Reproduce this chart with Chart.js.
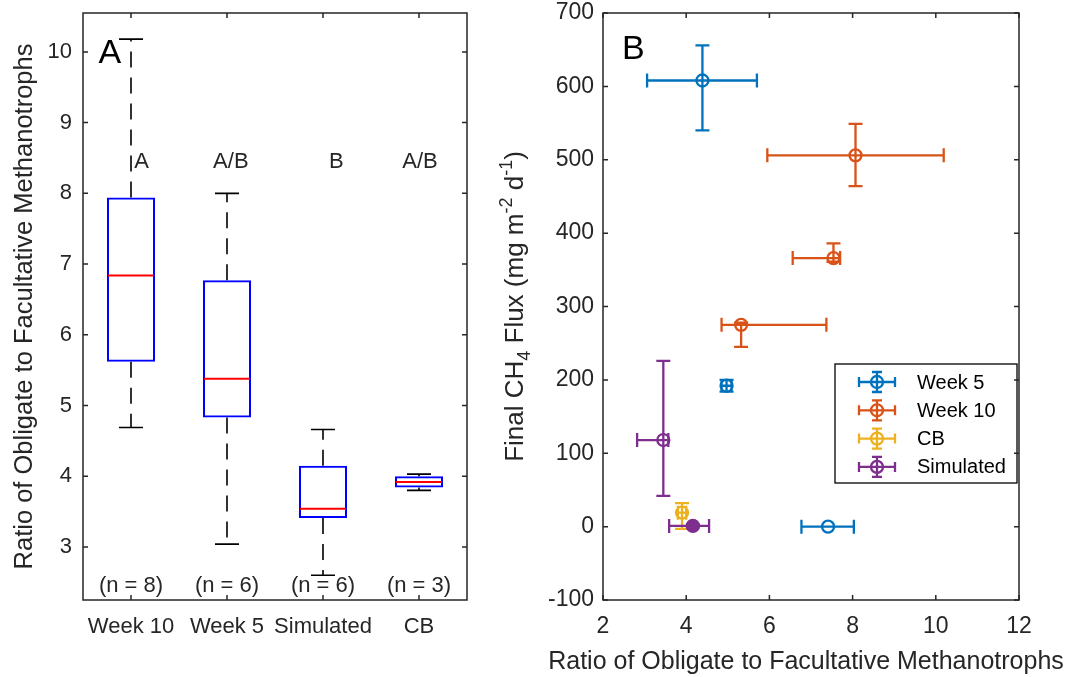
<!DOCTYPE html>
<html>
<head>
<meta charset="utf-8">
<script src="https://cdn.jsdelivr.net/npm/chart.js@4.4.1/dist/chart.umd.min.js"></script>
<style>
  html, body { margin: 0; padding: 0; background: #fff; }
  #wrap { position: relative; width: 1087px; height: 677px; overflow: hidden; }
  #boxChart { position: absolute; left: 0; top: 0; }
  #fluxChart { position: absolute; left: 480px; top: 0; }
</style>
</head>
<body>
<div id="wrap">
  <canvas id="boxChart" width="480" height="677"></canvas>
  <canvas id="fluxChart" width="607" height="677"></canvas>
</div>
<script>
// panel A: box plot of obligate / facultative ratio per group
const groups = ['Week 10', 'Week 5', 'Simulated', 'CB'];
const whiskerLow = [4.69, 3.04, 2.60, 3.80];
const boxQ1 = [5.62, 4.83, 3.41, 3.84];
const boxMedian = [6.84, 5.38, 3.54, 3.92];
const boxQ3 = [7.94, 6.77, 4.15, 4.00];
const whiskerHigh = [10.18, 8.00, 4.66, 4.03];
const sampleCounts = [8, 6, 6, 3];
const groupLetters = ['A', 'A/B', 'B', 'A/B'];
const letterShift = [0.11, 0.04, 0.14, 0.01];

// panel B: final CH4 flux vs ratio, with asymmetric error bars
const seriesNames = ['Week 5', 'Week 10', 'CB', 'Simulated'];
const seriesColors = ['#0072BD', '#D95319', '#EDB120', '#7E2F8E'];

const week5Ratio = [4.39, 4.97, 7.41];
const week5Flux = [608, 192, 0];
const week5RatioNeg = [1.33, 0.12, 0.64];
const week5RatioPos = [1.31, 0.12, 0.62];
const week5FluxNeg = [68, 8, 0];
const week5FluxPos = [48, 8, 0];

const week10Ratio = [8.07, 7.54, 5.32];
const week10Flux = [506, 366, 275];
const week10RatioNeg = [2.12, 0.98, 0.47];
const week10RatioPos = [2.12, 0.16, 2.05];
const week10FluxNeg = [42, 5, 30];
const week10FluxPos = [43, 20, 3];

const cbRatio = [3.90];
const cbFlux = [19];
const cbRatioNeg = [0.1];
const cbRatioPos = [0.1];
const cbFluxNeg = [22];
const cbFluxPos = [13];

const simRatio = [3.45, 4.16];
const simFlux = [118, 1];
const simRatioNeg = [0.63, 0.57];
const simRatioPos = [0.12, 0.39];
const simFluxNeg = [76, 2];
const simFluxPos = [108, 2];

Chart.defaults.font.family = "'Liberation Sans', Arial, sans-serif";
Chart.defaults.color = '#262626';

const AXIS = '#262626';
const FONT = "'Liberation Sans', Arial, sans-serif";

function toPoints(xs, ys, xn, xp, yn, yp) {
    return xs.map((x, i) => ({ x: x, y: ys[i], xNeg: xn[i], xPos: xp[i], yNeg: yn[i], yPos: yp[i] }));
}

// box outline + inward tick marks on all four sides
const frameTicks = {
    id: 'frameTicks',
    afterDraw(chart) {
        const { ctx, chartArea: a, scales: { x, y } } = chart;
        ctx.save();
        ctx.strokeStyle = AXIS;
        ctx.lineWidth = 1.5;
        ctx.strokeRect(a.left, a.top, a.right - a.left, a.bottom - a.top);
        ctx.beginPath();
        x.ticks.forEach((t, i) => {
            const px = x.getPixelForTick(i);
            ctx.moveTo(px, a.bottom); ctx.lineTo(px, a.bottom - 5);
            ctx.moveTo(px, a.top); ctx.lineTo(px, a.top + 5);
        });
        y.ticks.forEach((t, i) => {
            const py = y.getPixelForTick(i);
            ctx.moveTo(a.left, py); ctx.lineTo(a.left + 5, py);
            ctx.moveTo(a.right, py); ctx.lineTo(a.right - 5, py);
        });
        ctx.stroke();
        ctx.restore();
    }
};

// whiskers, caps, medians and text for the box plot
const boxParts = {
    id: 'boxParts',
    afterDatasetsDraw(chart) {
        const { ctx, scales: { x, y } } = chart;
        const bars = chart.getDatasetMeta(0).data;
        ctx.save();
        groups.forEach((g, i) => {
            const cx = x.getPixelForValue(i);
            const half = bars[i].width / 2;
            const cap = half / 2;

            ctx.strokeStyle = '#000';
            ctx.lineWidth = 1.6;
            ctx.setLineDash([16, 10]);
            ctx.beginPath();
            ctx.moveTo(cx, y.getPixelForValue(boxQ3[i]));
            ctx.lineTo(cx, y.getPixelForValue(whiskerHigh[i]));
            ctx.moveTo(cx, y.getPixelForValue(boxQ1[i]));
            ctx.lineTo(cx, y.getPixelForValue(whiskerLow[i]));
            ctx.stroke();

            ctx.setLineDash([]);
            ctx.beginPath();
            [whiskerHigh[i], whiskerLow[i]].forEach(v => {
                const py = y.getPixelForValue(v);
                ctx.moveTo(cx - cap, py); ctx.lineTo(cx + cap, py);
            });
            ctx.stroke();

            ctx.strokeStyle = '#FF0000';
            ctx.lineWidth = 2;
            ctx.beginPath();
            const my = y.getPixelForValue(boxMedian[i]);
            ctx.moveTo(cx - half + 1, my); ctx.lineTo(cx + half - 1, my);
            ctx.stroke();
        });

        ctx.fillStyle = '#262626';
        ctx.textAlign = 'center';
        ctx.textBaseline = 'middle';
        ctx.font = '22px ' + FONT;
        groups.forEach((g, i) => {
            ctx.fillText(groupLetters[i], x.getPixelForValue(i + letterShift[i]), y.getPixelForValue(8.44));
            ctx.fillText('(n = ' + sampleCounts[i] + ')', x.getPixelForValue(i), y.getPixelForValue(2.45));
        });
        ctx.fillStyle = '#000';
        ctx.font = '34px ' + FONT;
        ctx.fillText('A', x.getPixelForValue(-0.22), y.getPixelForValue(9.97));
        ctx.restore();
    }
};

// keep tick-label overhang from pushing the plot box down
function fixLeftAxis(width) {
    return s => { s.width = width; s.paddingTop = 0; s.paddingBottom = 0; };
}

new Chart(document.getElementById('boxChart'), {
    type: 'bar',
    data: {
        labels: groups,
        datasets: [{
            data: groups.map((g, i) => [boxQ1[i], boxQ3[i]]),
            backgroundColor: 'rgba(0,0,0,0)',
            borderColor: '#0000FF',
            borderWidth: 2,
            borderSkipped: false,
            barPercentage: 0.5,
            categoryPercentage: 1.0
        }]
    },
    options: {
        responsive: false,
        animation: false,
        events: [],
        layout: { padding: { top: 13, right: 13, left: 0, bottom: 0 } },
        plugins: { legend: { display: false }, tooltip: { enabled: false } },
        scales: {
            x: {
                grid: { display: false, drawTicks: false },
                border: { display: false },
                ticks: { font: { size: 22 }, padding: 14, color: AXIS, autoSkip: false, maxRotation: 0, minRotation: 0 },
                afterFit: s => { s.height = 77; }
            },
            y: {
                min: 2.25,
                max: 10.55,
                grid: { display: false, drawTicks: false },
                border: { display: false },
                ticks: { stepSize: 1, includeBounds: false, font: { size: 22 }, padding: 11, color: AXIS },
                title: {
                    display: true,
                    text: 'Ratio of Obligate to Facultative Methanotrophs',
                    font: { size: 25.5 },
                    color: AXIS,
                    padding: { top: 10, bottom: 0 }
                },
                afterFit: fixLeftAxis(83)
            }
        }
    },
    plugins: [boxParts, frameTicks]
});

// error bars drawn under the circle markers
const errorBars = {
    id: 'errorBars',
    beforeDatasetsDraw(chart) {
        const { ctx, scales: { x, y } } = chart;
        const cap = 7;
        ctx.save();
        ctx.lineWidth = 2.3;
        chart.data.datasets.forEach(ds => {
            ctx.strokeStyle = ds.borderColor;
            ds.data.forEach(p => {
                const px = x.getPixelForValue(p.x), py = y.getPixelForValue(p.y);
                const xl = x.getPixelForValue(p.x - p.xNeg), xr = x.getPixelForValue(p.x + p.xPos);
                const yt = y.getPixelForValue(p.y + p.yPos), yb = y.getPixelForValue(p.y - p.yNeg);
                ctx.beginPath();
                ctx.moveTo(xl, py); ctx.lineTo(xr, py);
                ctx.moveTo(xl, py - cap); ctx.lineTo(xl, py + cap);
                ctx.moveTo(xr, py - cap); ctx.lineTo(xr, py + cap);
                ctx.moveTo(px, yt); ctx.lineTo(px, yb);
                ctx.moveTo(px - cap, yt); ctx.lineTo(px + cap, yt);
                ctx.moveTo(px - cap, yb); ctx.lineTo(px + cap, yb);
                ctx.stroke();
            });
        });
        ctx.restore();
    }
};

// axis titles (y one has sub/superscripts), panel letter and the boxed legend
const fluxExtras = {
    id: 'fluxExtras',
    afterDraw(chart) {
        const { ctx, chartArea: a, scales: { x, y } } = chart;
        ctx.save();

        ctx.fillStyle = '#000';
        ctx.font = '34px ' + FONT;
        ctx.textAlign = 'center';
        ctx.textBaseline = 'middle';
        ctx.fillText('B', x.getPixelForValue(2.73), y.getPixelForValue(650));

        // x title runs wider than the axis, so it is drawn here unclipped
        ctx.fillStyle = AXIS;
        ctx.font = '25px ' + FONT;
        ctx.fillText('Ratio of Obligate to Facultative Methanotrophs', (a.left + a.right) / 2 - 5, a.bottom + 62);

        const parts = [
            ['Final CH', 0], ['4', 1], [' Flux (mg m', 0], ['-2', -1], [' d', 0], ['-1', -1], [')', 0]
        ];
        const big = '26px ' + FONT;
        const small = '18px ' + FONT;
        let total = 0;
        parts.forEach(p => { ctx.font = p[1] ? small : big; total += ctx.measureText(p[0]).width; });
        ctx.translate(43, (a.top + a.bottom) / 2);
        ctx.rotate(-Math.PI / 2);
        ctx.textAlign = 'left';
        ctx.textBaseline = 'alphabetic';
        let cx = -total / 2;
        parts.forEach(p => {
            ctx.font = p[1] ? small : big;
            const dy = p[1] === 1 ? 7 : (p[1] === -1 ? -11 : 0);
            ctx.fillText(p[0], cx, dy);
            cx += ctx.measureText(p[0]).width;
        });
        ctx.setTransform(1, 0, 0, 1, 0, 0);

        // legend
        const box = { left: 355, top: 364, right: 537, bottom: 483 };
        ctx.fillStyle = '#fff';
        ctx.fillRect(box.left, box.top, box.right - box.left, box.bottom - box.top);
        ctx.strokeStyle = '#000';
        ctx.lineWidth = 1.3;
        ctx.strokeRect(box.left, box.top, box.right - box.left, box.bottom - box.top);
        ctx.font = '20px ' + FONT;
        ctx.textBaseline = 'middle';
        ctx.textAlign = 'left';
        seriesNames.forEach((name, i) => {
            const cy = 382 + i * 28.3;
            const ix = 397;
            ctx.strokeStyle = seriesColors[i];
            ctx.lineWidth = 2.3;
            ctx.beginPath();
            ctx.moveTo(ix - 18, cy); ctx.lineTo(ix + 18, cy);
            ctx.moveTo(ix - 18, cy - 5); ctx.lineTo(ix - 18, cy + 5);
            ctx.moveTo(ix + 18, cy - 5); ctx.lineTo(ix + 18, cy + 5);
            ctx.moveTo(ix, cy - 10); ctx.lineTo(ix, cy + 10);
            ctx.moveTo(ix - 5, cy - 10); ctx.lineTo(ix + 5, cy - 10);
            ctx.moveTo(ix - 5, cy + 10); ctx.lineTo(ix + 5, cy + 10);
            ctx.stroke();
            ctx.beginPath();
            ctx.arc(ix, cy, 6, 0, Math.PI * 2);
            ctx.stroke();
            ctx.fillStyle = '#000';
            ctx.fillText(name, 437, cy + 1);
        });
        ctx.restore();
    }
};

function series(i, pts, fills) {
    return {
        label: seriesNames[i],
        data: pts,
        borderColor: seriesColors[i],
        backgroundColor: fills || 'rgba(0,0,0,0)',
        pointRadius: 6,
        pointBorderWidth: 2.3,
        pointStyle: 'circle'
    };
}

new Chart(document.getElementById('fluxChart'), {
    type: 'scatter',
    data: {
        datasets: [
            series(0, toPoints(week5Ratio, week5Flux, week5RatioNeg, week5RatioPos, week5FluxNeg, week5FluxPos)),
            series(1, toPoints(week10Ratio, week10Flux, week10RatioNeg, week10RatioPos, week10FluxNeg, week10FluxPos)),
            series(2, toPoints(cbRatio, cbFlux, cbRatioNeg, cbRatioPos, cbFluxNeg, cbFluxPos)),
            series(3, toPoints(simRatio, simFlux, simRatioNeg, simRatioPos, simFluxNeg, simFluxPos),
                ['rgba(0,0,0,0)', seriesColors[3]])
        ]
    },
    options: {
        responsive: false,
        animation: false,
        events: [],
        layout: { padding: { top: 13, right: 68, left: 0, bottom: 0 } },
        plugins: { legend: { display: false }, tooltip: { enabled: false } },
        scales: {
            x: {
                type: 'linear',
                min: 2,
                max: 12,
                grid: { display: false, drawTicks: false },
                border: { display: false },
                ticks: { stepSize: 2, font: { size: 23 }, padding: 13, color: AXIS },
                afterFit: s => { s.height = 77; }
            },
            y: {
                min: -100,
                max: 700,
                grid: { display: false, drawTicks: false },
                border: { display: false },
                ticks: { stepSize: 100, font: { size: 23 }, padding: 9, color: AXIS },
                afterFit: fixLeftAxis(123)
            }
        }
    },
    plugins: [errorBars, fluxExtras, frameTicks]
});
</script>
</body>
</html>
